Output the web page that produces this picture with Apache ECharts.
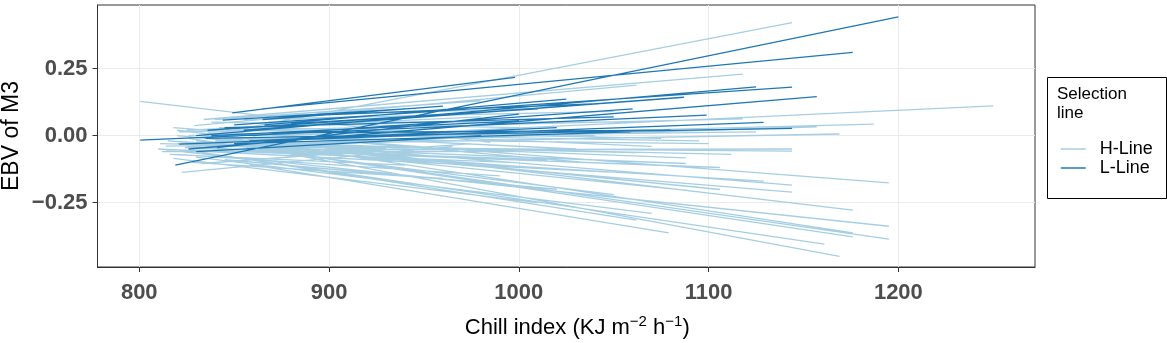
<!DOCTYPE html>
<html>
<head>
<meta charset="utf-8">
<script src="https://cdn.jsdelivr.net/npm/echarts@6/dist/echarts.min.js"></script>
<style>
  html, body { margin: 0; padding: 0; background: #fff; }
  #chart { width: 1167px; height: 343px; }
</style>
</head>
<body>
<div id="chart"></div>
<script>
// axis ticks
const xTicks = [800, 900, 1000, 1100, 1200];
const yTicks = [-0.25, 0, 0.25];

// each segment: [x start, EBV start, x end, EBV end]
const hLineSegs = [
  [800.5, 0.128, 985, -0.025],
  [850, 0.02, 1144, 0.421],
  [834, 0.06, 1118, 0.229],
  [829, 0.037, 1062, 0.188],
  [822, -0.03, 1250, 0.111],
  [821, 0.014, 1118, 0.062],
  [840, -0.02, 1187, 0.043],
  [830, -0.04, 1157, 0.033],
  [814, -0.039, 1169, 0.006],
  [845, -0.01, 1125, 0.014],
  [814, -0.054, 1144, -0.050],
  [835, -0.04, 1144, -0.058],
  [822.5, -0.137, 965, -0.04],
  [858, -0.107, 1079, -0.363],
  [840, -0.07, 1062, -0.315],
  [830, -0.02, 1090, -0.205],
  [820, -0.03, 1088, -0.104],
  [850, -0.02, 1088, -0.083],
  [835, -0.03, 1062, -0.063],
  [845, -0.05, 1106, -0.119],
  [820, 0.0, 1106, -0.201],
  [860, -0.03, 1112, -0.070],
  [825, -0.04, 1129, -0.170],
  [840, -0.01, 1144, -0.185],
  [815, -0.02, 1144, -0.211],
  [830, -0.06, 1161, -0.405],
  [850, -0.03, 1169, -0.450],
  [820, 0.02, 1176, -0.278],
  [840, 0.0, 1176, -0.363],
  [826, -0.01, 1176, -0.378],
  [818, 0.03, 1195, -0.176],
  [822, -0.06, 1195, -0.338],
  [855, -0.04, 1195, -0.386],
  [810, -0.05, 1048, -0.136],
  [830, -0.08, 1070, -0.29],
  [820, -0.07, 990, -0.15],
  [840, -0.03, 1010, -0.12],
  [815, -0.02, 960, -0.08],
  [850, 0.01, 1030, -0.05],
  [812, -0.06, 1000, -0.06],
  [838, 0.05, 1000, 0.03],
  [825, 0.02, 980, 0.07],
  [860, 0.03, 1040, 0.0],
  [845, -0.09, 1020, -0.2],
  [870, -0.06, 1050, -0.22],
  [828, -0.1, 960, -0.16],
  [818, -0.085, 1010, -0.25],
  [855, 0.06, 1050, 0.09],
  [840, 0.06, 980, 0.13],
  [833, -0.104, 975, -0.03],
  [866, 0.02, 1075, -0.01],
  [848, 0.07, 1005, 0.1],
  [826, 0.0, 945, 0.02],
  [862, -0.01, 1100, -0.03],
  [816, -0.07, 940, -0.11],
  [872, 0.0, 1035, -0.1],
  [842, 0.03, 1070, -0.04],
  [824, -0.045, 1015, -0.09],
  [836, 0.01, 1095, -0.02],
  [852, -0.06, 995, -0.1],
  [811, -0.03, 930, -0.05],
  [868, 0.05, 1065, 0.05],
  [846, 0.02, 970, 0.01]
];

const lLineSegs = [
  [819, -0.110, 1200, 0.443],
  [849, 0.085, 998, 0.217],
  [865, 0.10, 1176, 0.310],
  [850, 0.04, 1144, 0.181],
  [830, 0.0, 1125, 0.182],
  [826, -0.05, 1157, 0.145],
  [800.5, -0.017, 1099, 0.076],
  [821, -0.032, 1129, 0.049],
  [835, -0.01, 1144, 0.027],
  [866, 0.04, 1025, 0.136],
  [855, 0.02, 1087, 0.143],
  [841, -0.045, 1000, 0.08],
  [860, 0.0, 1060, 0.10],
  [850, -0.03, 1059, 0.014],
  [865, 0.06, 960, 0.11],
  [838, 0.0, 1000, 0.055],
  [870, 0.01, 1080, 0.02],
  [830, -0.06, 980, 0.0],
  [845, 0.03, 1050, 0.07],
  [880, 0.045, 1010, 0.1],
  [844, 0.058, 940, 0.1],
  [858, -0.02, 1020, 0.03],
  [872, 0.07, 1045, 0.12],
  [836, 0.02, 970, 0.085]
];

const FONT = '"Liberation Sans", Arial, sans-serif';

// segments joined into one line series, broken by null points
function toPoints(segs) {
  let pts = [];
  segs.forEach(s => {
    pts.push([s[0], s[1]], [s[2], s[3]], [null, null]);
  });
  return pts;
}

function fmtY(v) {
  if (v === 0) return '0.00';
  return (v < 0 ? '\u2212' : '') + Math.abs(v).toFixed(2);
}

let chart = echarts.init(document.getElementById('chart'));
let option = {
  animation: false,
  backgroundColor: '#ffffff',
  grid: {
    left: 97.5, right: 132, top: 5, bottom: 76,
    outerBoundsMode: 'none', containLabel: false,
    show: true, borderColor: '#333333', borderWidth: 1, backgroundColor: '#ffffff'
  },
  legend: {
    orient: 'vertical',
    left: 1055, top: 135,
    itemWidth: 25, itemHeight: 14, itemGap: 1,
    itemStyle: { opacity: 0 },
    lineStyle: { width: 1.5 },
    textStyle: { fontFamily: FONT, fontSize: 18, color: '#000', padding: [0, 0, 0, 9] },
    data: ['H-Line', 'L-Line']
  },
  graphic: [
    { type: 'rect', left: 1045, top: 75,
      shape: { width: 119, height: 121 },
      style: { fill: 'none', stroke: '#000', lineWidth: 1 } },
    { type: 'text', left: 1057, top: 85,
      style: { text: 'Selection\nline', font: '17px ' + FONT, fill: '#000', lineHeight: 19 } }
  ],
  xAxis: {
    type: 'value', min: 778, max: 1272,
    name: 'Chill index (KJ m{sup|\u22122} h{sup|\u22121})',
    nameLocation: 'middle', nameGap: 47,
    nameTextStyle: {
      fontFamily: FONT, fontSize: 22, color: '#000', padding: [0, 0, 0, 22],
      rich: { sup: { fontFamily: FONT, fontSize: 15, color: '#000', padding: [0, 0, 12, 0] } }
    },
    axisLine: { show: true, onZero: false, lineStyle: { color: '#333333', width: 1 } },
    axisTick: { show: true, customValues: xTicks, length: 5, lineStyle: { color: '#333333' } },
    axisLabel: {
      customValues: xTicks, margin: 15, formatter: v => String(v),
      fontFamily: FONT, fontSize: 22, fontWeight: 'bold', color: '#4d4d4d'
    },
    splitLine: { show: true, lineStyle: { color: '#ebebeb', width: 1 } }
  },
  yAxis: {
    type: 'value', min: -0.49, max: 0.487,
    name: 'EBV of M3',
    nameLocation: 'middle', nameGap: 74, nameRotate: 90, nameMoveOverlap: false,
    nameTextStyle: { fontFamily: FONT, fontSize: 23, color: '#000' },
    axisLine: { show: true, onZero: false, lineStyle: { color: '#333333', width: 1 } },
    axisTick: { show: true, customValues: yTicks, length: 5, lineStyle: { color: '#333333' } },
    axisLabel: {
      customValues: yTicks, margin: 10, formatter: fmtY,
      fontFamily: FONT, fontSize: 22, fontWeight: 'bold', color: '#4d4d4d'
    },
    splitLine: { show: true, lineStyle: { color: '#ebebeb', width: 1 } }
  },
  series: [
    {
      name: 'H-Line', type: 'line', silent: true,
      symbol: 'none', showSymbol: false, connectNulls: false,
      lineStyle: { color: '#a6cee3', width: 1.3 },
      itemStyle: { color: '#a6cee3' },
      data: toPoints(hLineSegs)
    },
    {
      name: 'L-Line', type: 'line', silent: true,
      symbol: 'none', showSymbol: false, connectNulls: false,
      lineStyle: { color: '#1f78b4', width: 1.3 },
      itemStyle: { color: '#1f78b4' },
      data: toPoints(lLineSegs)
    }
  ]
};
chart.setOption(option);
</script>
</body>
</html>
